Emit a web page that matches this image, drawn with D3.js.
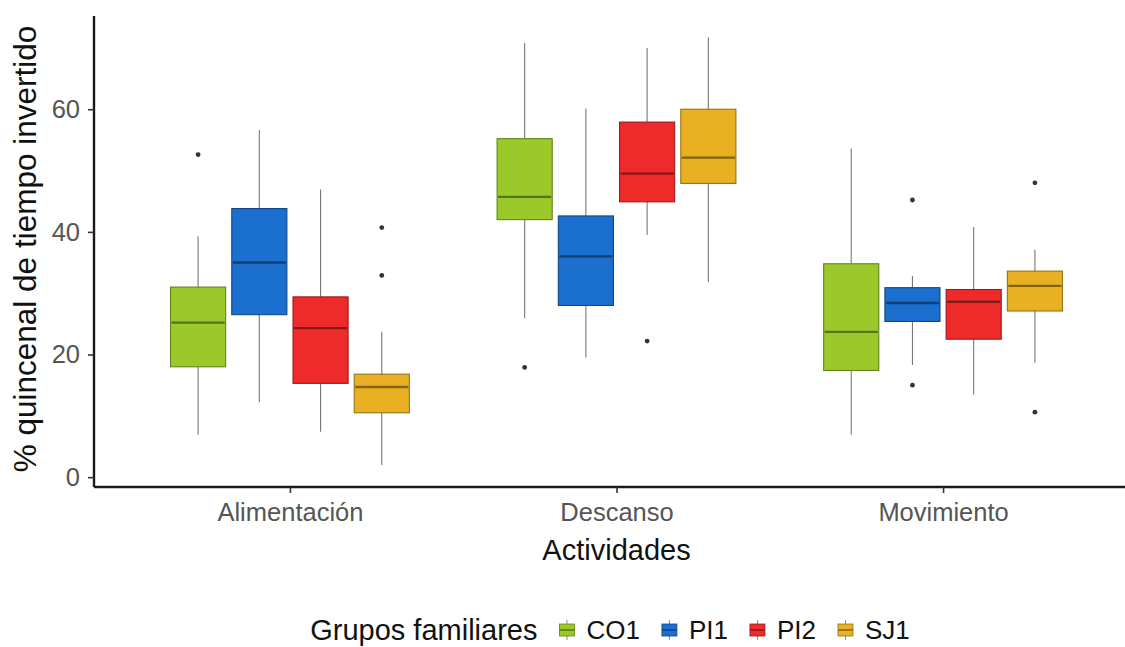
<!DOCTYPE html>
<html>
<head>
<meta charset="utf-8">
<script src="https://cdn.jsdelivr.net/npm/d3@7"></script>
<style>
  body { margin: 0; background: #fff; }
  svg { display: block; font-family: "Liberation Sans", Arial, sans-serif; }
</style>
</head>
<body>
<script>
// categories and groups
var actividades = ["Alimentación", "Descanso", "Movimiento"];
var grupos = ["CO1", "PI1", "PI2", "SJ1"];
var colores = ["#9bc92a", "#1a6fcf", "#ee2a2a", "#e8b022"];
var yTicks = [0, 20, 40, 60];

// box stats, one row per activity, one column per group (CO1, PI1, PI2, SJ1)
var bigoteInf = [[6.9, 12.2, 7.4, 2.0], [25.9, 19.5, 39.5, 31.8], [6.9, 18.3, 13.5, 18.7]];
var q1 = [[18.0, 26.5, 15.3, 10.5], [42.0, 28.0, 44.9, 47.9], [17.4, 25.4, 22.5, 27.1]];
var mediana = [[25.2, 35.0, 24.3, 14.7], [45.7, 36.0, 49.5, 52.1], [23.7, 28.4, 28.6, 31.2]];
var q3 = [[31.0, 43.8, 29.4, 16.8], [55.2, 42.6, 57.9, 60.0], [34.8, 30.9, 30.6, 33.6]];
var bigoteSup = [[39.3, 56.6, 46.9, 23.7], [70.8, 60.1, 70.0, 71.7], [53.6, 32.8, 40.8, 37.1]];
// outliers: [activity, group, value]
var atipicos = [
  ["Alimentación", "CO1", 52.6], ["Alimentación", "SJ1", 40.7], ["Alimentación", "SJ1", 32.9],
  ["Descanso", "CO1", 17.9], ["Descanso", "PI2", 22.2],
  ["Movimiento", "PI1", 45.2], ["Movimiento", "PI1", 15.0],
  ["Movimiento", "SJ1", 48.0], ["Movimiento", "SJ1", 10.6]
];

var W = 1125, H = 647;
var svg = d3.select("body").append("svg").attr("width", W).attr("height", H);

var x = d3.scalePoint().domain(actividades).range([94, 1139]).padding(0.6);
var step = x.step();
var xg = d3.scaleBand().domain(grupos).range([-0.375 * step, 0.375 * step])
  .paddingInner(0.1).paddingOuter(0.05);
var y = d3.scaleLinear().domain([-1.6, 75.2]).range([487, 16]);
var color = d3.scaleOrdinal().domain(grupos).range(colores);

var boxes = [];
actividades.forEach(function (a, i) {
  grupos.forEach(function (g, j) {
    boxes.push({ act: a, grp: g, lo: bigoteInf[i][j], q1: q1[i][j], med: mediana[i][j],
      q3: q3[i][j], hi: bigoteSup[i][j] });
  });
});

function cx(d) { return x(d.act) + xg(d.grp) + xg.bandwidth() / 2; }

var g = svg.append("g");
// whiskers
g.selectAll("line.whisker").data(boxes).enter().append("line")
  .attr("x1", cx).attr("x2", cx)
  .attr("y1", function (d) { return y(d.lo); })
  .attr("y2", function (d) { return y(d.hi); })
  .attr("stroke", "#777").attr("stroke-width", 1.1);
// boxes
g.selectAll("rect.box").data(boxes).enter().append("rect")
  .attr("x", function (d) { return x(d.act) + xg(d.grp); })
  .attr("width", xg.bandwidth())
  .attr("y", function (d) { return y(d.q3); })
  .attr("height", function (d) { return y(d.q1) - y(d.q3); })
  .attr("fill", function (d) { return color(d.grp); })
  .attr("stroke", function (d) { return d3.color(color(d.grp)).darker(1.2); })
  .attr("stroke-width", 1.1);
// medians
g.selectAll("line.median").data(boxes).enter().append("line")
  .attr("x1", function (d) { return x(d.act) + xg(d.grp) + 1; })
  .attr("x2", function (d) { return x(d.act) + xg(d.grp) + xg.bandwidth() - 1; })
  .attr("y1", function (d) { return y(d.med); })
  .attr("y2", function (d) { return y(d.med); })
  .attr("stroke", function (d) { return d3.color(color(d.grp)).darker(1.6); })
  .attr("stroke-width", 2.4);
// outliers
g.selectAll("circle.out").data(atipicos).enter().append("circle")
  .attr("cx", function (d) { return x(d[0]) + xg(d[1]) + xg.bandwidth() / 2; })
  .attr("cy", function (d) { return y(d[2]); })
  .attr("r", 2.4).attr("fill", "#333");

// axes
var yAxis = svg.append("g").attr("transform", "translate(94,0)")
  .call(d3.axisLeft(y).tickValues(yTicks).tickSize(6).tickPadding(8));
var xAxis = svg.append("g").attr("transform", "translate(0,487)")
  .call(d3.axisBottom(x).tickSize(6).tickPadding(10));
[yAxis, xAxis].forEach(function (ax) {
  ax.select(".domain").attr("stroke", "#1a1a1a").attr("stroke-width", 2.4);
  ax.selectAll(".tick line").attr("stroke", "#333").attr("stroke-width", 1.6);
  ax.selectAll(".tick text").attr("fill", "#555").attr("font-size", 25.5)
    .attr("font-family", "Liberation Sans, Arial, sans-serif");
});
xAxis.select(".domain").attr("d", "M94,0H1125");
yAxis.select(".domain").attr("d", "M0,16V487");

// titles
svg.append("text").attr("x", x("Descanso")).attr("y", 560)
  .attr("text-anchor", "middle").attr("font-size", 29).attr("fill", "#111")
  .text("Actividades");
svg.append("text").attr("transform", "translate(36,249) rotate(-90)")
  .attr("text-anchor", "middle").attr("font-size", 31.5).attr("fill", "#111")
  .text("% quincenal de tiempo invertido");

// legend
var leg = svg.append("g");
var lt = leg.append("text").attr("x", 0).attr("y", 0).attr("dy", "0.35em")
  .attr("font-size", 29).attr("fill", "#111").text("Grupos familiares");
var cur = lt.node().getComputedTextLength() + 22;
grupos.forEach(function (gr) {
  var k = leg.append("g").attr("transform", "translate(" + cur + ",0)");
  k.append("line").attr("x1", 7.5).attr("x2", 7.5).attr("y1", -10).attr("y2", 10)
    .attr("stroke", "#888").attr("stroke-width", 1);
  k.append("rect").attr("x", 0).attr("y", -6).attr("width", 15).attr("height", 12)
    .attr("fill", color(gr)).attr("stroke", d3.color(color(gr)).darker(1.2)).attr("stroke-width", 0.8);
  k.append("line").attr("x1", 0).attr("x2", 15).attr("y1", 0).attr("y2", 0)
    .attr("stroke", d3.color(color(gr)).darker(1.6)).attr("stroke-width", 1.5);
  var t = leg.append("text").attr("x", cur + 27).attr("y", 0).attr("dy", "0.35em")
    .attr("font-size", 26).attr("fill", "#111").text(gr);
  cur += 27 + t.node().getComputedTextLength() + 22;
});
var lw = cur - 22;
leg.attr("transform", "translate(" + (610 - lw / 2) + ",630)");
</script>
</body>
</html>
